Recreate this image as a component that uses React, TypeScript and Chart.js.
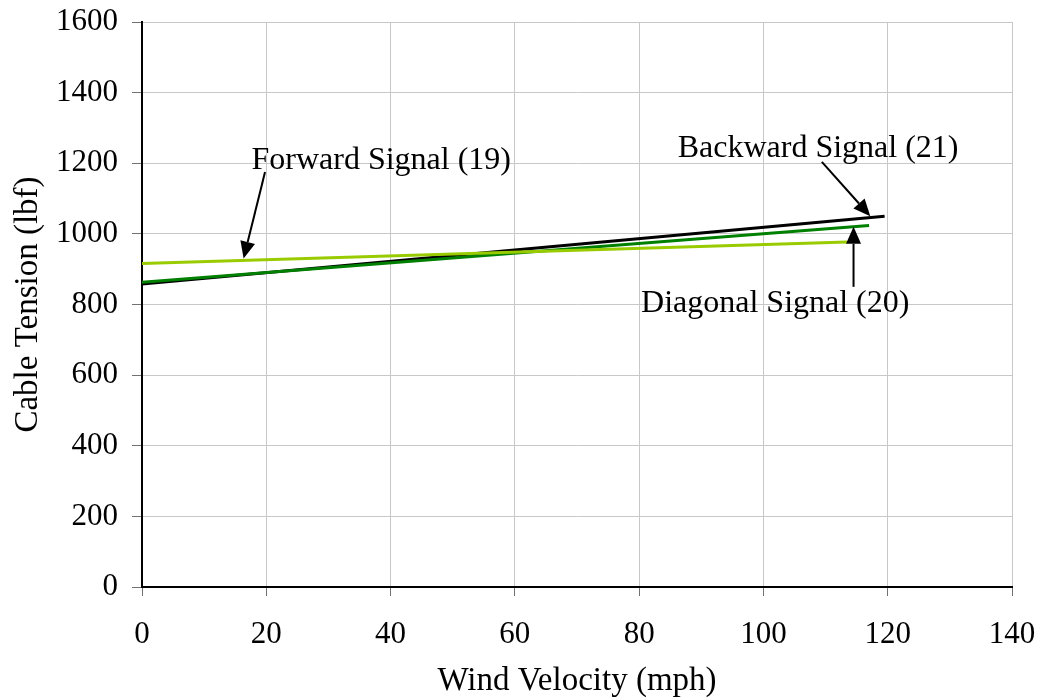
import React, { useEffect, useRef } from "react";
import { Chart, registerables } from "chart.js";

Chart.register(...registerables);

// Fitted cable tension (lbf) vs wind velocity (mph) for each signal
const forwardX = [0, 113.5];
const forwardY = [916, 977];
const diagonalX = [0, 117];
const diagonalY = [863, 1024];
const backwardX = [0, 119.5];
const backwardY = [858, 1050];

// Callout labels: text centre and arrow start/tip, in data units
const calloutText = ["Forward Signal (19)", "Backward Signal (21)", "Diagonal Signal (20)"];
const calloutTextX = [38.5, 108.8, 101.9];
const calloutTextY = [1208, 1242, 803];
const arrowFromX = [19.8, 109.4, 114.5];
const arrowFromY = [1175, 1204, 850];
const arrowToX = [16.35, 117.2, 114.5];
const arrowToY = [930, 1050, 1020];

const FONT = "'Liberation Serif', 'Times New Roman', serif";

const pts = (xs: number[], ys: number[]) => xs.map((x, i) => ({ x, y: ys[i] }));

const calloutPlugin = {
  id: "callouts",
  afterDatasetsDraw(chart: any) {
    const { ctx, scales } = chart;
    const xs = scales.x;
    const ys = scales.y;
    ctx.save();
    ctx.fillStyle = "#000";
    ctx.strokeStyle = "#000";
    ctx.font = `32px ${FONT}`;
    ctx.textAlign = "center";
    ctx.textBaseline = "middle";
    calloutText.forEach((t, i) => {
      ctx.fillText(t, xs.getPixelForValue(calloutTextX[i]), ys.getPixelForValue(calloutTextY[i]));
      const x0 = xs.getPixelForValue(arrowFromX[i]);
      const y0 = ys.getPixelForValue(arrowFromY[i]);
      const x1 = xs.getPixelForValue(arrowToX[i]);
      const y1 = ys.getPixelForValue(arrowToY[i]);
      const ang = Math.atan2(y1 - y0, x1 - x0);
      const headLen = 17;
      const headHalf = 7.5;
      const bx = x1 - headLen * Math.cos(ang);
      const by = y1 - headLen * Math.sin(ang);
      ctx.lineWidth = 2;
      ctx.beginPath();
      ctx.moveTo(x0, y0);
      ctx.lineTo(bx, by);
      ctx.stroke();
      ctx.beginPath();
      ctx.moveTo(x1, y1);
      ctx.lineTo(bx + headHalf * Math.sin(ang), by - headHalf * Math.cos(ang));
      ctx.lineTo(bx - headHalf * Math.sin(ang), by + headHalf * Math.cos(ang));
      ctx.closePath();
      ctx.fill();
    });
    ctx.restore();
  },
};

export default function App() {
  const ref = useRef<HTMLCanvasElement>(null);

  useEffect(() => {
    if (!ref.current) return;
    const chart = new Chart(ref.current, {
      type: "scatter",
      data: {
        datasets: [
          {
            label: "Forward Signal (19)",
            data: pts(forwardX, forwardY),
            borderColor: "#99CC00",
            borderWidth: 3,
            showLine: true,
            pointRadius: 0,
          },
          {
            label: "Diagonal Signal (20)",
            data: pts(diagonalX, diagonalY),
            borderColor: "#008000",
            borderWidth: 3,
            showLine: true,
            pointRadius: 0,
          },
          {
            label: "Backward Signal (21)",
            data: pts(backwardX, backwardY),
            borderColor: "#000000",
            borderWidth: 3,
            showLine: true,
            pointRadius: 0,
          },
        ],
      },
      options: {
        responsive: false,
        animation: false,
        layout: { padding: { left: 0, right: 28, top: 22, bottom: 0 } },
        plugins: { legend: { display: false }, tooltip: { enabled: false } },
        scales: {
          x: {
            type: "linear",
            min: 0,
            max: 140,
            afterFit: (s: any) => {
              s.height = 111;
              s.paddingLeft = 0;
              s.paddingRight = 0;
            },
            ticks: {
              stepSize: 20,
              color: "#000",
              font: { family: FONT, size: 31 },
              padding: 20,
              maxRotation: 0,
              callback: (v: any) => String(v),
            },
            grid: { color: "#c8c8c8", lineWidth: 1, tickLength: 9, tickColor: "#707070" },
            border: { color: "#000", width: 2 },
            title: {
              display: true,
              text: "Wind Velocity (mph)",
              color: "#000",
              font: { family: FONT, size: 33, lineHeight: 1 },
              padding: { top: 0, bottom: 0 },
            },
          },
          y: {
            type: "linear",
            min: 0,
            max: 1600,
            afterFit: (s: any) => {
              s.width = 142;
              s.paddingTop = 0;
              s.paddingBottom = 0;
            },
            ticks: {
              stepSize: 200,
              color: "#000",
              font: { family: FONT, size: 31 },
              padding: 14,
              callback: (v: any) => String(v),
            },
            grid: { color: "#c8c8c8", lineWidth: 1, tickLength: 10, tickColor: "#707070" },
            border: { color: "#000", width: 2 },
            title: {
              display: true,
              text: "Cable Tension (lbf)",
              color: "#000",
              font: { family: FONT, size: 33, lineHeight: 1 },
              padding: { top: 12, bottom: 0 },
            },
          },
        },
      },
      plugins: [calloutPlugin],
    });
    return () => chart.destroy();
  }, []);

  return (
    <div style={{ position: "fixed", left: 0, top: 0, width: 1040, height: 698, background: "#fff" }}>
      <canvas ref={ref} width={1040} height={698} />
    </div>
  );
}
